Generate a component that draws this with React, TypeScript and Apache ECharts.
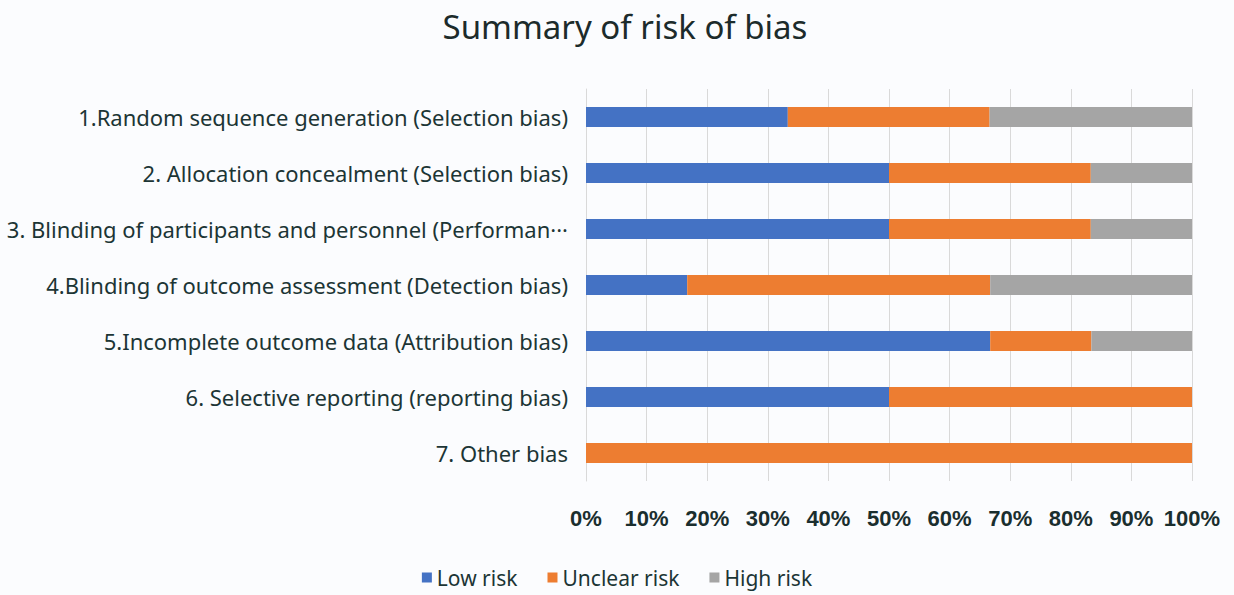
import React, { useEffect, useRef } from "react";
import * as echarts from "echarts";

const categories = [
  "1.Random sequence generation (Selection bias)",
  "2. Allocation concealment (Selection bias)",
  "3. Blinding of participants and personnel (Performance bias)",
  "4.Blinding of outcome assessment (Detection bias)",
  "5.Incomplete outcome data (Attribution bias)",
  "6. Selective reporting (reporting bias)",
  "7. Other bias",
];
const lowRisk = [33.3, 50, 50, 16.7, 66.7, 50, 0];
const unclearRisk = [33.3, 33.3, 33.3, 50, 16.7, 50, 100];
const highRisk = [33.4, 16.7, 16.7, 33.3, 16.6, 0, 0];
const seriesNames = ["Low risk", "Unclear risk", "High risk"];
const colors = ["#4472c4", "#ed7d31", "#a5a5a5"];

export default function App() {
  const ref = useRef<HTMLDivElement>(null);
  useEffect(() => {
    const chart = echarts.init(ref.current!, undefined, { renderer: "svg" });
    const data = [lowRisk, unclearRisk, highRisk];
    chart.setOption({
      animation: false,
      backgroundColor: "#fbfcfe",
      title: {
        text: "Summary of risk of bias",
        left: 620,
        textAlign: "center",
        top: 5,
        textStyle: { fontFamily: "Noto Sans", fontSize: 33, fontWeight: "normal", color: "#1c2b2b" },
      },
      legend: {
        bottom: 2,
        left: "center",
        itemWidth: 10,
        itemHeight: 10,
        itemGap: 30,
        icon: "rect",
        textStyle: { fontFamily: "Noto Sans", fontSize: 21, color: "#1c3535" },
        data: seriesNames,
      },
      grid: { left: 586, right: 42, top: 89, bottom: 114, containLabel: false },
      xAxis: {
        type: "value",
        min: 0,
        max: 100,
        interval: 10,
        axisLine: { show: false },
        axisTick: { show: false },
        splitLine: { lineStyle: { color: "#d9d9d9", width: 1 } },
        axisLabel: {
          formatter: "{value}%",
          margin: 26,
          fontFamily: "Liberation Sans",
          fontSize: 22,
          fontWeight: "bold",
          color: "#1a2e2e",
        },
      },
      yAxis: {
        type: "category",
        inverse: true,
        data: categories,
        axisLine: { show: true, lineStyle: { color: "#d9d9d9" } },
        axisTick: { show: false },
        axisLabel: {
          margin: 18,
          width: 566,
          overflow: "truncate",
          ellipsis: "···",
          fontFamily: "Noto Sans",
          fontSize: 22,
          color: "#1c3535",
        },
      },
      series: data.map((d, i) => ({
        name: seriesNames[i],
        type: "bar",
        stack: "total",
        barWidth: 20,
        itemStyle: { color: colors[i] },
        data: d,
      })),
    });
    return () => chart.dispose();
  }, []);
  return <div ref={ref} style={{ position: "fixed", left: 0, top: 0, width: 1234, height: 595 }} />;
}
